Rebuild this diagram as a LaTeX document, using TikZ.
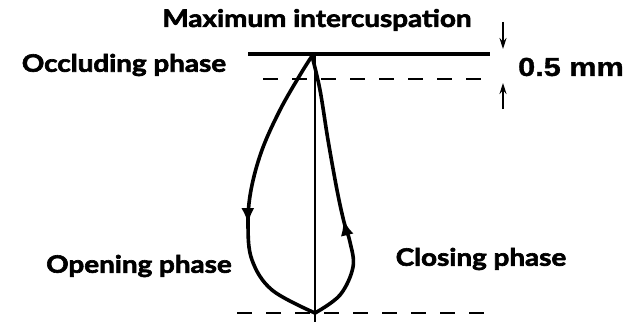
\documentclass[tikz,border=0pt]{standalone}
\usepackage{fontspec}
\setmainfont{Lato}[FakeStretch=1.16, BoldFeatures={FakeBold=2.6}]
\newfontfamily\arialfont{Liberation Sans}[FakeStretch=1.18, BoldFeatures={FakeBold=1.2}]
\usetikzlibrary{arrows.meta,decorations.markings}
\begin{document}
\begin{tikzpicture}[x=1pt,y=1pt,
  lbl/.style={font=\fontsize{24}{27}\selectfont\bfseries, inner sep=0pt},
  mmlbl/.style={font=\arialfont\fontsize{26}{29}\selectfont\bfseries, inner sep=0pt},
  solidline/.style={line width=4pt},
  dashline/.style={line width=2.8pt, dash pattern=on 15pt off 14pt},
  axis/.style={line width=1.1pt},
  curve/.style={line width=3.6pt, line join=round},
  dimarrow/.style={line width=1.4pt, -{Stealth[length=11pt,width=7pt]}},
  downmark/.style={postaction={decorate}, decoration={markings, mark=at position #1 with {\arrow{Latex[length=16pt,width=13pt]}}}},
]
\useasboundingbox (0,0) rectangle (640,322);
% reference lines
\coordinate (sl) at (248,268);
\coordinate (sr) at (490,268);
\coordinate (dl) at (263,243);
\coordinate (dr) at (490,243);
\coordinate (bl) at (237,9);
\coordinate (br) at (490,9);
\coordinate (vt) at (315,268);
\coordinate (vb) at (315,0);
\draw[solidline] (sl) -- (sr);
\draw[dashline] (dl) -- (dr);
\draw[dashline] (bl) -- (br);
\draw[axis] (vt) -- (vb);
% loop
\coordinate (T) at (312,266);
\coordinate (B) at (315,9);
\draw[curve, downmark=0.6] plot[smooth, tension=0.6] coordinates {(T) (300,247) (280,212) (262,172) (251,132) (248,97) (252,62) (272,32) (B)};
\draw[curve, downmark=0.4] plot[smooth, tension=0.6] coordinates {(B) (340,27) (353,55) (350,80) (344,100) (337,132) (328,182) (320,232) (T)};
% dimension arrows
\coordinate (a1s) at (503,300);
\coordinate (a1e) at (503,273);
\coordinate (a2s) at (503,213);
\coordinate (a2e) at (503,239);
\draw[dimarrow] (a1s) -- (a1e);
\draw[dimarrow] (a2s) -- (a2e);
% labels
\node[lbl] (max) at (317,302) {Maximum intercuspation};
\node[lbl] (occ) at (124,257) {Occluding phase};
\node[mmlbl] (mm) at (571,255) {0.5 mm};
\node[lbl] (open) at (139,56) {Opening phase};
\node[lbl] (close) at (481,63) {Closing phase};
\end{tikzpicture}
\end{document}
